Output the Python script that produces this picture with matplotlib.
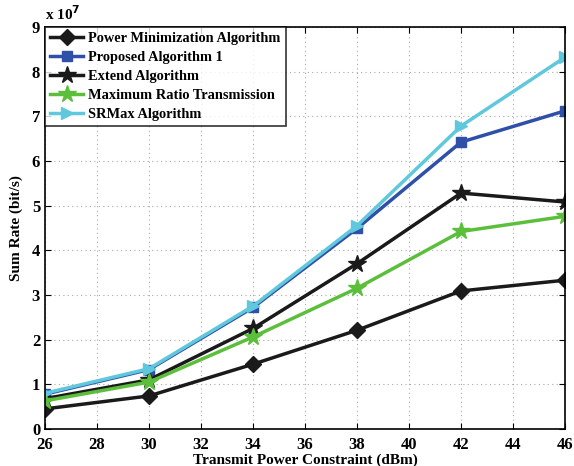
import matplotlib
matplotlib.use("Agg")
import matplotlib.pyplot as plt

plt.rcParams['font.family'] = ['Liberation Serif', 'DejaVu Serif']
plt.rcParams['font.weight'] = 'bold'

power_db = [26, 30, 34, 38, 42, 46]
power_min = [0.45, 0.74, 1.45, 2.21, 3.09, 3.33]
proposed = [0.78, 1.33, 2.72, 4.49, 6.42, 7.12]
extend = [0.68, 1.10, 2.25, 3.70, 5.28, 5.08]
mrt = [0.63, 1.05, 2.06, 3.15, 4.42, 4.76]
srmax = [0.80, 1.35, 2.75, 4.55, 6.78, 8.32]

labels = ["Power Minimization Algorithm", "Proposed Algorithm 1",
          "Extend Algorithm", "Maximum Ratio Transmission", "SRMax Algorithm"]

fig = plt.figure(figsize=(5.74, 4.66), dpi=100)
ax = fig.add_axes([0.0784, 0.0794, 0.906, 0.863])

ax.plot(power_db, power_min, color='#1a1a1a', lw=2.5, marker='D', ms=8, label=labels[0])
ax.plot(power_db, proposed, color='#2f4fa8', lw=2.5, marker='s', ms=7, label=labels[1])
ax.plot(power_db, extend, color='#1a1a1a', lw=2.5, marker='*', ms=13, label=labels[2])
ax.plot(power_db, mrt, color='#5cbf3c', lw=2.5, marker='*', ms=13, label=labels[3])
ax.plot(power_db, srmax, color='#5fc8dc', lw=2.5, marker='>', ms=9, label=labels[4])

ax.set_xlim(26, 46)
ax.set_ylim(0, 9)
ax.set_xticks(range(26, 47, 2))
ax.set_yticks(range(0, 10))
ax.tick_params(direction='in', labelsize=12, length=4, top=True, right=True)
ax.tick_params(axis='x', pad=6)
for lab in ax.get_xticklabels() + ax.get_yticklabels():
    lab.set_fontweight('bold')
ax.grid(True, linestyle=(0, (1, 3)), color='#aaaaaa', lw=0.8)
for s in ax.spines.values():
    s.set_linewidth(1.2)

ax.set_xlabel('Transmit Power Constraint (dBm)', fontsize=11, fontweight='bold', labelpad=0)
ax.set_ylabel('Sum Rate (bit/s)', fontsize=11, fontweight='bold', labelpad=6)
ax.text(0.0, 1.01, r'x 10$^{7}$', transform=ax.transAxes, fontsize=11,
        fontweight='bold', ha='left', va='bottom')

leg = ax.legend(loc='upper left', fontsize=10.4, frameon=True, fancybox=False,
                borderaxespad=0, handlelength=2.3, labelspacing=0.4,
                borderpad=0.35, handletextpad=0.35)
leg.get_frame().set_edgecolor('black')
leg.get_frame().set_linewidth(1.2)
for t in leg.get_texts():
    t.set_fontweight('bold')

fig.savefig('out.png', dpi=100)
